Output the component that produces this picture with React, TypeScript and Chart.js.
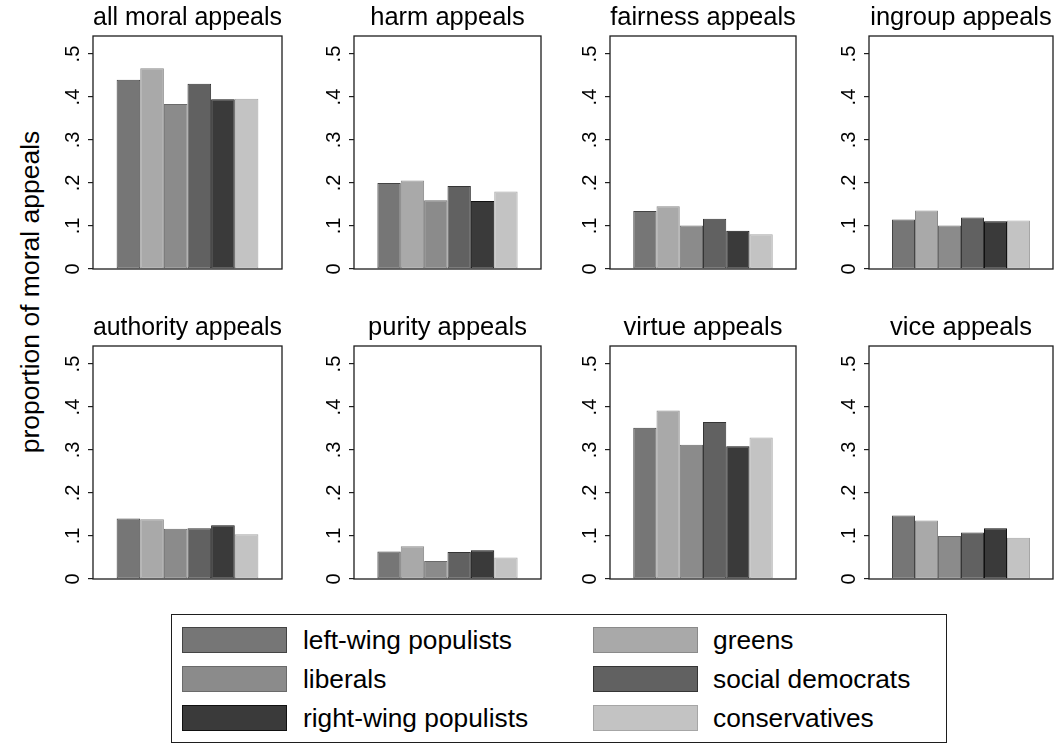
import React, { useEffect, useRef } from "react";
import { Chart, registerables } from "chart.js";

Chart.register(...registerables);

// ---------- data ----------
const parties = [
  "left-wing populists",
  "greens",
  "liberals",
  "social democrats",
  "right-wing populists",
  "conservatives",
];
const panelTitles = [
  "all moral appeals",
  "harm appeals",
  "fairness appeals",
  "ingroup appeals",
  "authority appeals",
  "purity appeals",
  "virtue appeals",
  "vice appeals",
];
const allMoral = [0.44, 0.467, 0.384, 0.431, 0.395, 0.396];
const harm = [0.2, 0.206, 0.16, 0.193, 0.158, 0.18];
const fairness = [0.135, 0.146, 0.101, 0.117, 0.089, 0.081];
const ingroup = [0.115, 0.136, 0.101, 0.12, 0.111, 0.113];
const authority = [0.141, 0.139, 0.117, 0.118, 0.125, 0.104];
const purity = [0.064, 0.076, 0.042, 0.063, 0.067, 0.05];
const virtue = [0.352, 0.392, 0.312, 0.365, 0.309, 0.329];
const vice = [0.148, 0.136, 0.1, 0.108, 0.118, 0.096];
const panelValues = [allMoral, harm, fairness, ingroup, authority, purity, virtue, vice];
const tickValues = [0, 0.1, 0.2, 0.3, 0.4, 0.5];
const tickLabels = ["0", ".1", ".2", ".3", ".4", ".5"];
const yAxisTitle = "proportion of moral appeals";
const Y_MAX = 0.542;

// ---------- styles ----------
const FONT = '"Liberation Sans", Arial, Helvetica, sans-serif';
const FILL = ["#767676", "#a9a9a9", "#8b8b8b", "#616161", "#3a3a3a", "#c3c3c3"];
const EDGE = ["#444444", "#8a8a8a", "#6a6a6a", "#353535", "#111111", "#a6a6a6"];
const AXIS_W = 40;
const COL_X = [93, 354, 610, 869];
const COL_W = [189, 187, 186, 184];
const ROW_Y = [0, 310];
const PLOT_H = 233;
const TITLE_H = 36;
const PAD_B = 20;
const PAD_R = 4;

const framePlugin = {
  id: "frame",
  afterDatasetsDraw(chart: any) {
    const { ctx, chartArea: a } = chart;
    ctx.save();
    ctx.strokeStyle = "#1e1e1e";
    ctx.lineWidth = 1.3;
    ctx.strokeRect(a.left, a.top, a.right - a.left, a.bottom - a.top);
    ctx.restore();
  },
};

function Panel({ idx }: { idx: number }) {
  const ref = useRef<HTMLCanvasElement>(null);
  const col = idx % 4;
  const row = Math.floor(idx / 4);
  const w = AXIS_W + COL_W[col] + PAD_R;
  const h = TITLE_H + PLOT_H + PAD_B;
  useEffect(() => {
    const values = panelValues[idx];
    const chart = new Chart(ref.current as HTMLCanvasElement, {
      type: "bar",
      data: {
        labels: [""],
        datasets: parties.map((p, i) => ({
          label: p,
          data: [values[i]],
          backgroundColor: FILL[i],
          borderColor: EDGE[i],
          borderWidth: 1,
          borderSkipped: false,
          categoryPercentage: 0.75,
          barPercentage: 1,
        })),
      },
      options: {
        animation: false,
        responsive: false,
        maintainAspectRatio: false,
        events: [],
        layout: { padding: { left: 0, right: PAD_R, top: 0, bottom: PAD_B } },
        plugins: {
          legend: { display: false },
          tooltip: { enabled: false },
          title: {
            display: true,
            text: panelTitles[idx],
            fullSize: false,
            color: "#000",
            font: { family: FONT, size: 25.5, weight: "normal", lineHeight: 1.2 },
            padding: { top: 2.7, bottom: 2.7 },
          },
        },
        scales: {
          x: { display: false },
          y: {
            min: 0,
            max: Y_MAX,
            afterFit: (s: any) => {
              s.width = AXIS_W;
            },
            afterBuildTicks: (s: any) => {
              s.ticks = tickValues.map((v) => ({ value: v }));
            },
            border: { display: false },
            grid: {
              drawOnChartArea: false,
              drawTicks: true,
              tickLength: 5,
              color: "#1e1e1e",
              lineWidth: 1.2,
            },
            ticks: {
              minRotation: 90,
              maxRotation: 90,
              crossAlign: "center",
              padding: 6,
              color: "#000",
              font: { family: FONT, size: 20 },
              callback: (_v: any, i: number) => tickLabels[i],
            },
          },
        },
      } as any,
      plugins: [framePlugin],
    });
    return () => chart.destroy();
  }, [idx]);
  return (
    <canvas
      ref={ref}
      width={w}
      height={h}
      style={{
        position: "absolute",
        left: COL_X[col] - AXIS_W,
        top: ROW_Y[row],
        width: w,
        height: h,
      }}
    />
  );
}

const LEG_ROWS_Y = [640, 679, 718];
const LEG_SW_X = [182, 593];
const LEG_TX_X = [303, 713];

export default function App() {
  return (
    <div
      style={{
        position: "absolute",
        left: 0,
        top: 0,
        width: 1054,
        height: 744,
        background: "#fff",
        overflow: "hidden",
        fontFamily: FONT,
        color: "#000",
      }}
    >
      <div
        style={{
          position: "absolute",
          left: 30,
          top: 292,
          transform: "translate(-50%, -50%) rotate(-90deg)",
          whiteSpace: "nowrap",
          fontSize: 26.5,
          lineHeight: "30px",
        }}
      >
        {yAxisTitle}
      </div>
      {panelTitles.map((_, i) => (
        <Panel key={i} idx={i} />
      ))}
      <div
        style={{
          position: "absolute",
          left: 171,
          top: 614,
          width: 776,
          height: 129,
          border: "1.5px solid #1e1e1e",
          boxSizing: "border-box",
        }}
      />
      {parties.map((p, i) => {
        const c = i % 2;
        const r = Math.floor(i / 2);
        const cy = LEG_ROWS_Y[r];
        return (
          <React.Fragment key={p}>
            <div
              style={{
                position: "absolute",
                left: LEG_SW_X[c],
                top: cy - 13,
                width: 105,
                height: 26,
                background: FILL[i],
                border: `1px solid ${EDGE[i]}`,
                boxSizing: "border-box",
              }}
            />
            <div
              style={{
                position: "absolute",
                left: LEG_TX_X[c],
                top: cy - 16,
                height: 32,
                lineHeight: "32px",
                fontSize: 26.3,
                whiteSpace: "nowrap",
              }}
            >
              {p}
            </div>
          </React.Fragment>
        );
      })}
    </div>
  );
}
